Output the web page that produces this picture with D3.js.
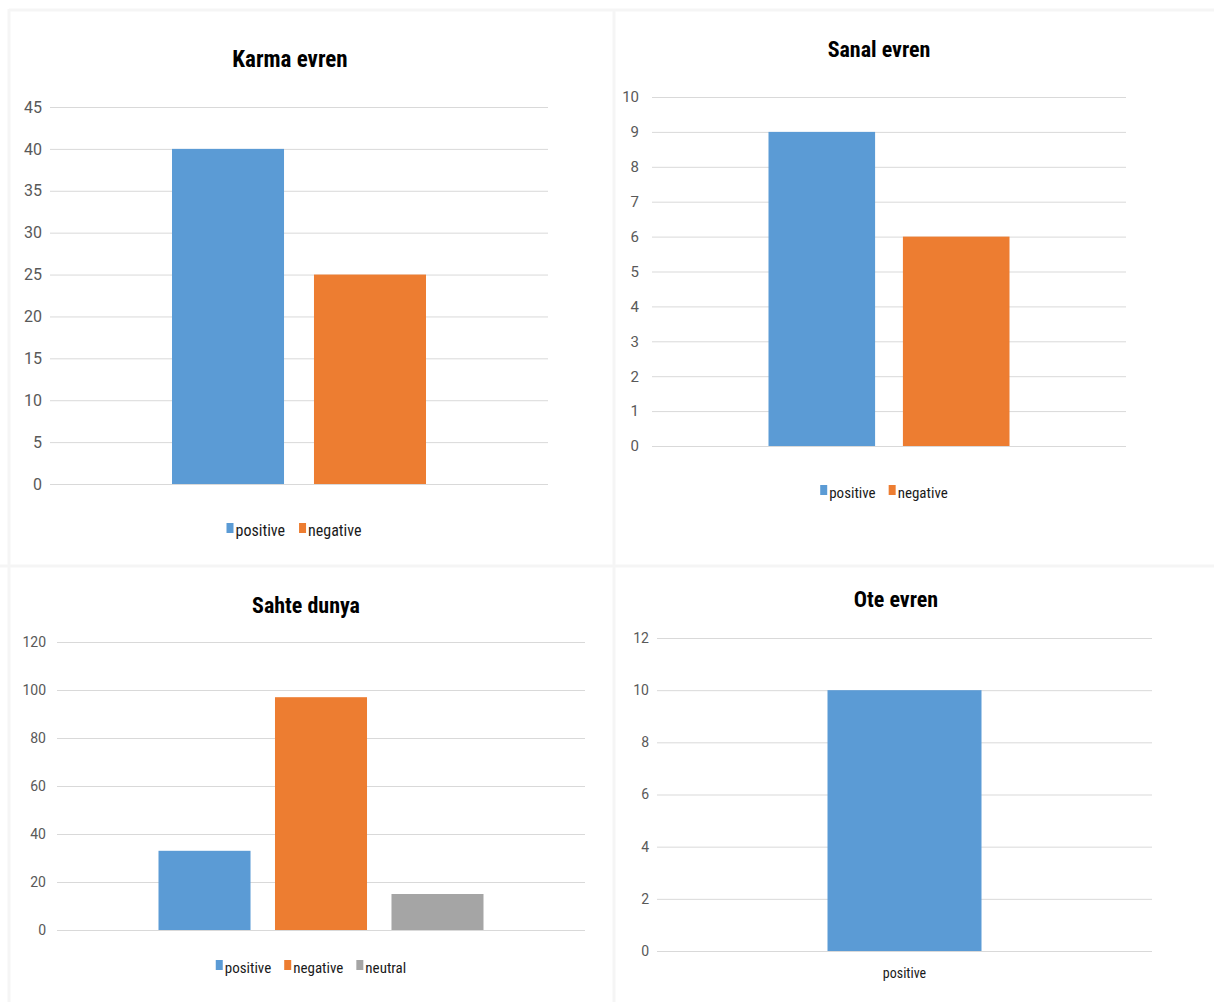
<!DOCTYPE html>
<html>
<head>
<meta charset="utf-8">
<script src="https://cdn.jsdelivr.net/npm/d3@7/dist/d3.min.js"></script>
<style>
  html, body { margin: 0; padding: 0; background: #ffffff; }
  svg { display: block; }
  text { font-family: "Liberation Sans Narrow", "Arial Narrow", "Roboto Condensed", Roboto, sans-serif; }
</style>
</head>
<body>
<svg id="chart" width="1214" height="1002"></svg>
<script>
// ---- data ----
const karmaCategories = ["positive", "negative"];
const karmaValues = [40, 25];
const karmaTicks = [0, 5, 10, 15, 20, 25, 30, 35, 40, 45];

const sanalCategories = ["positive", "negative"];
const sanalValues = [9, 6];
const sanalTicks = [0, 1, 2, 3, 4, 5, 6, 7, 8, 9, 10];

const sahteCategories = ["positive", "negative", "neutral"];
const sahteValues = [33, 97, 15];
const sahteTicks = [0, 20, 40, 60, 80, 100, 120];

const oteCategories = ["positive"];
const oteValues = [10];
const oteTicks = [0, 2, 4, 6, 8, 10, 12];

const seriesColors = { positive: "#5b9bd5", negative: "#ed7d31", neutral: "#a5a5a5" };

const svg = d3.select("#chart");

// panel frames
const frame = svg.append("g").attr("stroke", "#f5f5f5").attr("stroke-width", 3).attr("fill", "none");
frame.append("line").attr("x1", 9).attr("y1", 10).attr("x2", 1214).attr("y2", 10);
frame.append("line").attr("x1", 9).attr("y1", 9).attr("x2", 9).attr("y2", 1002);
frame.append("line").attr("x1", 614).attr("y1", 9).attr("x2", 614).attr("y2", 1002);
frame.append("line").attr("x1", 0).attr("y1", 566).attr("x2", 1214).attr("y2", 566);

function drawPanel(opt) {
  const { title, categories, values, ticks, layout } = opt;
  const g = svg.append("g");

  const y = d3.scaleLinear()
    .domain([0, d3.max(ticks)])
    .range([layout.yBase, layout.yTop]);

  // gridlines + tick labels via a left axis
  const axis = d3.axisLeft(y)
    .tickValues(ticks)
    .tickSize(-(layout.gx1 - layout.gx0))
    .tickPadding(layout.tickPad)
    .tickFormat(d3.format("d"));

  const ax = g.append("g")
    .attr("transform", `translate(${layout.gx1},0)`)
    .call(axis);
  ax.select(".domain").remove();
  ax.selectAll(".tick line")
    .attr("transform", `translate(${-(layout.gx1 - layout.gx0)},0)`)
    .attr("x2", layout.gx1 - layout.gx0)
    .attr("stroke", "#d9d9d9");
  ax.selectAll(".tick text")
    .attr("x", -(layout.gx1 - layout.gx0) - layout.tickPad)
    .attr("fill", "#595959")
    .attr("font-size", layout.tickSize)
    .style("font-family", '"Liberation Sans Narrow", "Arial Narrow", Roboto, sans-serif');

  // bars: one cluster centred on the plot
  const cx = (layout.gx0 + layout.gx1) / 2;
  const x = d3.scaleBand()
    .domain(categories)
    .range([cx - layout.groupW / 2, cx + layout.groupW / 2])
    .paddingInner(layout.inner)
    .paddingOuter(0);

  g.append("g").selectAll("rect")
    .data(categories.map((c, i) => ({ c, v: values[i] })))
    .join("rect")
    .attr("x", d => x(d.c))
    .attr("width", x.bandwidth())
    .attr("y", d => y(d.v))
    .attr("height", d => y(0) - y(d.v))
    .attr("fill", d => seriesColors[d.c]);

  // title
  g.append("text")
    .attr("x", layout.titleX)
    .attr("y", layout.titleY)
    .attr("text-anchor", "middle")
    .attr("font-size", layout.titleSize)
    .attr("font-weight", "bold")
    .attr("fill", "#000000")
    .text(title);

  // legend or category label
  if (layout.legend) {
    const lg = g.append("g");
    const items = lg.selectAll("g").data(categories).join("g");
    items.append("rect")
      .attr("width", 7).attr("height", 10)
      .attr("y", -8)
      .attr("fill", d => seriesColors[d]);
    items.append("text")
      .attr("x", 9)
      .attr("y", 1)
      .attr("dominant-baseline", "middle")
      .attr("font-size", layout.legendSize)
      .attr("fill", "#1a1a1a")
      .text(d => d);
    // lay out entries side by side
    let off = 0;
    items.each(function () {
      const w = this.getBBox().width;
      d3.select(this).attr("transform", `translate(${off},0)`);
      off += w + layout.legendGap;
    });
    const total = off - layout.legendGap;
    lg.attr("transform", `translate(${layout.legendX - total / 2},${layout.legendY})`);
  } else {
    g.append("text")
      .attr("x", x(categories[0]) + x.bandwidth() / 2)
      .attr("y", layout.catLabelY)
      .attr("text-anchor", "middle")
      .attr("dominant-baseline", "middle")
      .attr("font-size", layout.legendSize)
      .attr("fill", "#1a1a1a")
      .text(categories[0]);
  }
}

drawPanel({
  title: "Karma evren", categories: karmaCategories, values: karmaValues, ticks: karmaTicks,
  layout: { gx0: 50, gx1: 548, yTop: 107, yBase: 484, groupW: 254, inner: 0.211, tickPad: 8, tickSize: 16,
            titleX: 290, titleY: 67, titleSize: 23, legend: true, legendX: 294, legendY: 531, legendSize: 16, legendGap: 14 }
});

drawPanel({
  title: "Sanal evren", categories: sanalCategories, values: sanalValues, ticks: sanalTicks,
  layout: { gx0: 652, gx1: 1126, yTop: 97, yBase: 446, groupW: 241, inner: 0.207, tickPad: 13, tickSize: 15,
            titleX: 879, titleY: 57, titleSize: 22, legend: true, legendX: 884, legendY: 493, legendSize: 15, legendGap: 13 }
});

drawPanel({
  title: "Sahte dunya", categories: sahteCategories, values: sahteValues, ticks: sahteTicks,
  layout: { gx0: 57, gx1: 585, yTop: 642, yBase: 930, groupW: 325, inner: 0.21, tickPad: 11, tickSize: 14,
            titleX: 306, titleY: 613, titleSize: 22, legend: true, legendX: 311, legendY: 968, legendSize: 15, legendGap: 13 }
});

drawPanel({
  title: "Ote evren", categories: oteCategories, values: oteValues, ticks: oteTicks,
  layout: { gx0: 657, gx1: 1152, yTop: 638, yBase: 951, groupW: 154, inner: 0, tickPad: 8, tickSize: 14,
            titleX: 896, titleY: 607, titleSize: 22, legend: false, catLabelY: 974, legendSize: 14 }
});
</script>
</body>
</html>
